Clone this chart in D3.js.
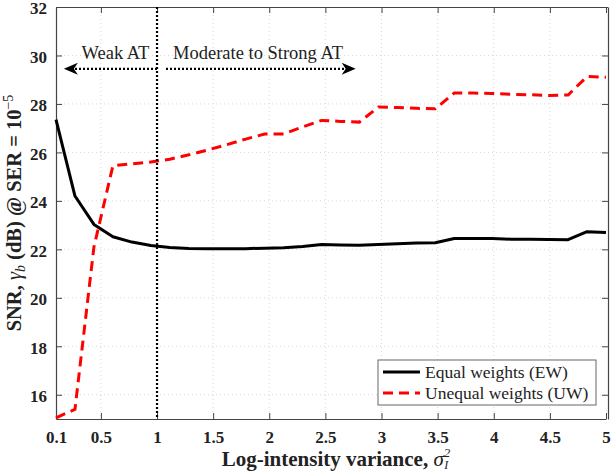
<!DOCTYPE html>
<html>
<head>
<meta charset="utf-8">
<script src="https://cdn.jsdelivr.net/npm/d3@7"></script>
<style>
body { margin: 0; background: #fff; }
svg { display: block; }
svg text { font-family: "Liberation Serif", "Times New Roman", serif; }
</style>
</head>
<body>
<script>
const svgWidth = 613
const svgHeight = 472

const margin = { top: 7, right: 5, bottom: 53, left: 56 }
const chartWidth = svgWidth - margin.left - margin.right
const chartHeight = svgHeight - margin.top - margin.bottom

const serif = "Liberation Serif, Times New Roman, serif"
const colorEW = "#000000"
const colorUW = "#ff0000"

// log-intensity variance samples
const variance = [0.1, 0.269, 0.438, 0.607, 0.776, 0.945, 1.114, 1.283, 1.452, 1.621,
    1.79, 1.959, 2.128, 2.297, 2.466, 2.634, 2.803, 2.972, 3.141, 3.31,
    3.479, 3.648, 3.817, 3.986, 4.155, 4.324, 4.493, 4.662, 4.831, 5]

const snrEqual = [27.35, 24.2, 23.03, 22.52, 22.3, 22.16, 22.08, 22.04, 22.02, 22.02,
    22.03, 22.05, 22.07, 22.12, 22.2, 22.18, 22.17, 22.2, 22.23, 22.26,
    22.27, 22.45, 22.45, 22.45, 22.42, 22.42, 22.41, 22.4, 22.73, 22.7]

const snrUnequal = [15.05, 15.4, 22.1, 25.45, 25.53, 25.6, 25.72, 25.9, 26.1, 26.32,
    26.55, 26.76, 26.76, 27.05, 27.32, 27.28, 27.25, 27.87, 27.85, 27.82,
    27.8, 28.45, 28.45, 28.43, 28.4, 28.38, 28.35, 28.37, 29.13, 29.1]

const xTicks = [0.1, 0.5, 1, 1.5, 2, 2.5, 3, 3.5, 4, 4.5, 5]
const yTicks = [16, 18, 20, 22, 24, 26, 28, 30, 32]

const legendLabels = ["Equal weights (EW)", "Unequal weights (UW)"]

const svg = d3.select("body").append("svg")
    .attr("width", svgWidth)
    .attr("height", svgHeight)

const chartG = svg.append("g")
    .attr("transform", `translate(${margin.left}, ${margin.top})`)

const x = d3.scaleLinear().domain([0.1, 5]).range([0, chartWidth - 2])
const y = d3.scaleLinear().domain([15, 32]).range([chartHeight, 0])

// grid
chartG.append("g").selectAll("line")
    .data(xTicks.slice(1, -1))
    .join("line")
    .attr("x1", d => x(d)).attr("x2", d => x(d))
    .attr("y1", 0).attr("y2", chartHeight)
    .attr("stroke", "#d8d8d8").attr("stroke-dasharray", "1,3")

chartG.append("g").selectAll("line")
    .data(yTicks.slice(0, -1))
    .join("line")
    .attr("y1", d => y(d)).attr("y2", d => y(d))
    .attr("x1", 0).attr("x2", chartWidth)
    .attr("stroke", "#d8d8d8").attr("stroke-dasharray", "1,3")

// axes
const styleAxis = g => {
    g.select(".domain").attr("stroke", "#444").attr("stroke-width", 1.2)
    g.selectAll(".tick line").attr("stroke", "#444")
    g.selectAll(".tick text")
        .attr("font-family", serif)
        .attr("font-weight", "bold")
        .attr("font-size", 17)
        .attr("fill", "#222")
}

chartG.append("g")
    .attr("transform", `translate(0, ${chartHeight})`)
    .call(d3.axisBottom(x).tickValues(xTicks).tickFormat(d => d)
        .tickSize(-6).tickPadding(12).tickSizeOuter(0))
    .call(styleAxis)

chartG.append("g")
    .call(d3.axisLeft(y).tickValues(yTicks).tickSize(-6).tickPadding(9).tickSizeOuter(0))
    .call(styleAxis)
    .call(g => g.selectAll(".tick text").attr("dy", "0.4em"))

chartG.append("g")
    .call(d3.axisTop(x).tickValues(xTicks).tickSize(-6).tickFormat("").tickSizeOuter(0))
    .call(styleAxis)

chartG.append("g")
    .attr("transform", `translate(${chartWidth}, 0)`)
    .call(d3.axisRight(y).tickValues(yTicks).tickSize(-6).tickFormat("").tickSizeOuter(0))
    .call(styleAxis)

// curves
const line = d3.line()
    .x((d, i) => x(variance[i]))
    .y(d => y(d))

chartG.append("path")
    .attr("d", line(snrEqual))
    .attr("fill", "none")
    .attr("stroke", colorEW)
    .attr("stroke-width", 3)
    .attr("stroke-linejoin", "round")

chartG.append("path")
    .attr("d", line(snrUnequal))
    .attr("fill", "none")
    .attr("stroke", colorUW)
    .attr("stroke-width", 3)
    .attr("stroke-dasharray", "10,6")

// boundary at variance = 1
chartG.append("line")
    .attr("x1", x(1)).attr("x2", x(1))
    .attr("y1", 0).attr("y2", chartHeight)
    .attr("stroke", "#000")
    .attr("stroke-width", 2.2)
    .attr("stroke-dasharray", "2,2")

// region arrows
const arrowY = y(29.45)
const arrows = [
    { from: 1, to: 0.17 },
    { from: 1.08, to: 2.77 }
]
arrows.forEach(a => {
    const dir = a.to > a.from ? 1 : -1
    const tip = x(a.to)
    chartG.append("line")
        .attr("x1", x(a.from)).attr("x2", tip - dir * 10)
        .attr("y1", arrowY).attr("y2", arrowY)
        .attr("stroke", "#000")
        .attr("stroke-width", 2.2)
        .attr("stroke-dasharray", "2,2")
    chartG.append("path")
        .attr("d", `M${tip},${arrowY} L${tip - dir * 14},${arrowY - 6} L${tip - dir * 10},${arrowY} L${tip - dir * 14},${arrowY + 6} Z`)
        .attr("fill", "#000")
})

chartG.append("text")
    .attr("x", x(0.63)).attr("y", y(29.86))
    .attr("text-anchor", "middle")
    .attr("font-family", serif).attr("font-size", 18.5)
    .attr("fill", "#222")
    .text("Weak AT")

chartG.append("text")
    .attr("x", x(1.9)).attr("y", y(29.86))
    .attr("text-anchor", "middle")
    .attr("font-family", serif).attr("font-size", 18.5)
    .attr("fill", "#222")
    .text("Moderate to Strong AT")

// legend
const legend = svg.append("g")
    .attr("transform", "translate(378, 360)")

legend.append("rect")
    .attr("width", 218).attr("height", 45)
    .attr("fill", "#fff")
    .attr("stroke", "#666")

legendLabels.forEach((label, i) => {
    const ly = 12 + i * 21
    legend.append("line")
        .attr("x1", 5).attr("x2", 42)
        .attr("y1", ly).attr("y2", ly)
        .attr("stroke", i === 0 ? colorEW : colorUW)
        .attr("stroke-width", 3)
        .attr("stroke-dasharray", i === 0 ? null : "10,6")
    legend.append("text")
        .attr("x", 47).attr("y", ly + 5.5)
        .attr("font-family", serif).attr("font-size", 17.5)
        .attr("fill", "#222")
        .text(label)
})

// axis titles
const yLabel = svg.append("text")
    .attr("transform", `translate(21, ${margin.top + chartHeight / 2}) rotate(-90)`)
    .attr("text-anchor", "middle")
    .attr("font-family", serif).attr("font-size", 20.5).attr("font-weight", "bold")
    .attr("fill", "#222")
yLabel.append("tspan").text("SNR, ")
yLabel.append("tspan").attr("font-style", "italic").attr("font-weight", "normal").text("γ")
yLabel.append("tspan").attr("font-style", "italic").attr("font-weight", "normal")
    .attr("font-size", 14).attr("dy", 4).text("b")
yLabel.append("tspan").attr("dy", -4).text(" (dB) @ SER = 10")
yLabel.append("tspan").attr("font-size", 14).attr("font-weight", "normal")
    .attr("dy", -8).text("−5")

const xLabel = svg.append("text")
    .attr("x", margin.left + chartWidth / 2 + 4)
    .attr("y", 466)
    .attr("text-anchor", "middle")
    .attr("font-family", serif).attr("font-size", 21).attr("font-weight", "bold")
    .attr("fill", "#222")
xLabel.append("tspan").text("Log-intensity variance, ")
xLabel.append("tspan").attr("font-style", "italic").attr("font-weight", "normal").text("σ")
xLabel.append("tspan").attr("font-style", "italic").attr("font-weight", "normal")
    .attr("font-size", 13).attr("dy", -9).text("2")
xLabel.append("tspan").attr("font-style", "italic").attr("font-weight", "normal")
    .attr("font-size", 12).attr("dx", -6).attr("dy", 12).text("I")
</script>
</body>
</html>
